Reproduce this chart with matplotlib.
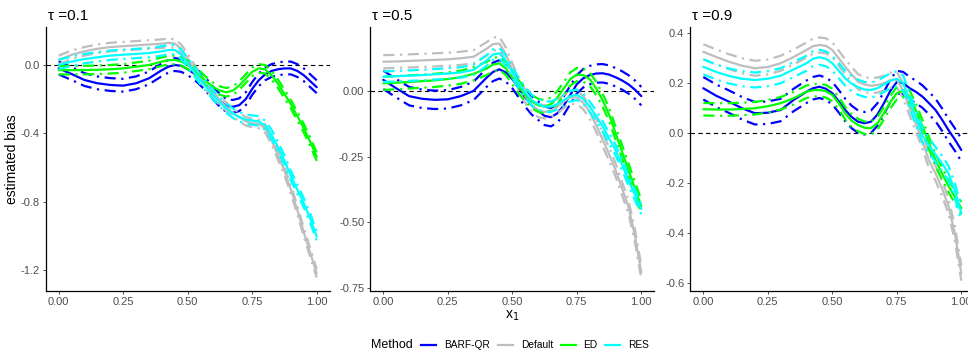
import numpy as np
from matplotlib import pyplot as plt
from matplotlib.lines import Line2D

plt.rcParams["font.family"] = ["Liberation Sans", "DejaVu Sans"]
plt.rcParams["axes.unicode_minus"] = False

# finer grid where the curves bend quickly
x1 = [0.0, 0.05, 0.1, 0.15, 0.2, 0.25, 0.3, 0.35, 0.4, 0.425, 0.45, 0.475, 0.5, 0.525,
      0.55, 0.575, 0.6, 0.625, 0.65, 0.675, 0.7, 0.725, 0.75, 0.775, 0.8, 0.825, 0.85,
      0.875, 0.9, 0.925, 0.95, 0.975, 1.0]

methods = ["BARF-QR", "Default", "ED", "RES"]
colors = ["#0000FF", "#BEBEBE", "#00FF00", "#00FFFF"]

# estimated bias curves, tau = 0.1
t01_barf = [-0.02, -0.053, -0.088, -0.107, -0.117, -0.121, -0.107, -0.078, -0.03, -0.01, 0.0,
            -0.005, -0.025, -0.05, -0.085, -0.125, -0.17, -0.21, -0.24, -0.245, -0.235, -0.2,
            -0.14, -0.09, -0.055, -0.035, -0.025, -0.02, -0.02, -0.035, -0.06, -0.095, -0.13]
t01_default = [0.03, 0.06, 0.08, 0.095, 0.105, 0.11, 0.115, 0.12, 0.125, 0.13, 0.125, 0.095,
               0.04, -0.02, -0.075, -0.125, -0.17, -0.21, -0.245, -0.28, -0.305, -0.33, -0.34,
               -0.345, -0.37, -0.44, -0.53, -0.62, -0.73, -0.85, -0.98, -1.1, -1.22]
t01_ed = [-0.03, -0.03, -0.03, -0.028, -0.025, -0.02, -0.01, 0.0, 0.02, 0.028, 0.03, 0.02,
          0.0, -0.03, -0.065, -0.1, -0.13, -0.15, -0.16, -0.15, -0.12, -0.08, -0.04, -0.02,
          -0.025, -0.06, -0.11, -0.17, -0.23, -0.3, -0.37, -0.45, -0.537]
t01_res = [0.0, 0.02, 0.035, 0.045, 0.055, 0.06, 0.065, 0.07, 0.08, 0.088, 0.088, 0.06,
           0.01, -0.04, -0.09, -0.135, -0.18, -0.22, -0.255, -0.285, -0.305, -0.32, -0.325,
           -0.33, -0.355, -0.41, -0.48, -0.56, -0.65, -0.73, -0.81, -0.9, -1.005]

# estimated bias curves, tau = 0.5
t05_barf = [0.042, 0.01, -0.02, -0.03, -0.034, -0.032, -0.02, 0.0, 0.05, 0.072, 0.082, 0.07,
            0.045, 0.01, -0.025, -0.055, -0.075, -0.095, -0.1, -0.085, -0.055, -0.015, 0.025,
            0.048, 0.06, 0.066, 0.067, 0.062, 0.052, 0.04, 0.025, 0.005, -0.02]
t05_default = [0.111, 0.112, 0.114, 0.116, 0.118, 0.12, 0.124, 0.13, 0.16, 0.178, 0.18, 0.14,
               0.08, 0.025, -0.02, -0.055, -0.075, -0.08, -0.075, -0.06, -0.04, -0.025, -0.025,
               -0.045, -0.08, -0.13, -0.185, -0.24, -0.3, -0.37, -0.44, -0.55, -0.69]
t05_ed = [0.029, 0.031, 0.034, 0.037, 0.04, 0.045, 0.052, 0.065, 0.085, 0.1, 0.105, 0.085,
          0.05, 0.015, -0.015, -0.04, -0.055, -0.06, -0.05, -0.025, 0.01, 0.045, 0.062, 0.06,
          0.045, 0.01, -0.035, -0.09, -0.16, -0.23, -0.3, -0.37, -0.44]
t05_res = [0.054, 0.056, 0.058, 0.06, 0.063, 0.066, 0.07, 0.08, 0.115, 0.138, 0.143, 0.115,
           0.07, 0.03, -0.005, -0.035, -0.05, -0.06, -0.06, -0.05, -0.035, -0.02, -0.015,
           -0.03, -0.06, -0.095, -0.135, -0.18, -0.225, -0.28, -0.34, -0.395, -0.45]

# estimated bias curves, tau = 0.9
t09_barf = [0.18, 0.15, 0.126, 0.1, 0.08, 0.082, 0.093, 0.133, 0.166, 0.18, 0.186, 0.178,
            0.16, 0.128, 0.093, 0.065, 0.046, 0.04, 0.046, 0.075, 0.12, 0.17, 0.205, 0.2,
            0.18, 0.165, 0.146, 0.12, 0.093, 0.055, 0.013, -0.025, -0.067]
t09_default = [0.326, 0.305, 0.286, 0.27, 0.26, 0.265, 0.28, 0.305, 0.333, 0.348, 0.353, 0.35,
               0.333, 0.3, 0.266, 0.235, 0.206, 0.195, 0.19, 0.193, 0.2, 0.212, 0.215, 0.17,
               0.1, 0.035, -0.035, -0.11, -0.16, -0.22, -0.29, -0.4, -0.56]
t09_ed = [0.096, 0.095, 0.095, 0.097, 0.1, 0.108, 0.12, 0.14, 0.166, 0.172, 0.173, 0.168,
          0.153, 0.12, 0.08, 0.05, 0.033, 0.022, 0.02, 0.04, 0.08, 0.125, 0.16, 0.17, 0.146,
          0.09, 0.027, -0.04, -0.107, -0.16, -0.21, -0.255, -0.3]
t09_res = [0.266, 0.245, 0.229, 0.218, 0.213, 0.218, 0.23, 0.255, 0.28, 0.298, 0.304, 0.298,
           0.28, 0.25, 0.22, 0.198, 0.184, 0.175, 0.173, 0.18, 0.195, 0.21, 0.218, 0.2, 0.13,
           0.06, -0.01, -0.05, -0.085, -0.12, -0.16, -0.23, -0.32]

# half widths of the dash-dot bands (below, above) per method
t01_band_lo = [0.035, 0.025, 0.025, 0.025]
t01_band_hi = [0.04, 0.025, 0.025, 0.03]
t05_band_lo = [0.035, 0.025, 0.025, 0.02]
t05_band_hi = [0.035, 0.025, 0.025, 0.02]
t09_band_lo = [0.045, 0.03, 0.025, 0.03]
t09_band_hi = [0.045, 0.03, 0.025, 0.03]

panel_titles = ["\u03c4 =0.1", "\u03c4 =0.5", "\u03c4 =0.9"]
panel_curves = [
    [t01_barf, t01_default, t01_ed, t01_res],
    [t05_barf, t05_default, t05_ed, t05_res],
    [t09_barf, t09_default, t09_ed, t09_res],
]
panel_bands = [(t01_band_lo, t01_band_hi), (t05_band_lo, t05_band_hi), (t09_band_lo, t09_band_hi)]
panel_ylims = [(-1.322, 0.2225), (-0.76, 0.243), (-0.63, 0.425)]
panel_yticks = [[0.0, -0.4, -0.8, -1.2], [0.0, -0.25, -0.5, -0.75], [0.4, 0.2, 0.0, -0.2, -0.4, -0.6]]
panel_yfmt = ["{:.1f}", "{:.2f}", "{:.1f}"]
xticks = [0.0, 0.25, 0.5, 0.75, 1.0]

W, H = 968, 358
fig = plt.figure(figsize=(W / 100, H / 100), dpi=100)
lefts = [45.8, 370.4, 690.4]
top_px, bottom_px, width_px = 27, 290.7, 283.8
dashdot = (0, (5, 2.5, 1, 2.5))

for i in range(3):
    ax = fig.add_axes([lefts[i] / W, 1 - bottom_px / H, width_px / W, (bottom_px - top_px) / H])
    ax.axhline(0, color="black", lw=0.8, ls=(0, (4, 3)), zorder=1)
    lo, hi = panel_bands[i]
    for j, vals in enumerate(panel_curves[i]):
        v = np.array(vals)
        ax.plot(x1, v, color=colors[j], lw=1.6, solid_capstyle="round", zorder=2)
        ax.plot(x1, v - lo[j], color=colors[j], lw=1.6, ls=dashdot, zorder=2)
        ax.plot(x1, v + hi[j], color=colors[j], lw=1.6, ls=dashdot, zorder=2)
    ax.set_xlim(-0.05, 1.05)
    ax.set_ylim(*panel_ylims[i])
    ax.set_xticks(xticks)
    ax.set_xticklabels([f"{t:.2f}" for t in xticks])
    ax.set_yticks(panel_yticks[i])
    ax.set_yticklabels([panel_yfmt[i].format(t) for t in panel_yticks[i]])
    ax.tick_params(labelsize=8, labelcolor="#4D4D4D", color="#333333", length=2.5, width=0.6, pad=2)
    for s in ["top", "right"]:
        ax.spines[s].set_visible(False)
    for s in ["left", "bottom"]:
        ax.spines[s].set_linewidth(0.9)
    ax.set_title(panel_titles[i], loc="left", fontsize=11, pad=5, x=0.007)
    if i == 0:
        ax.set_ylabel("estimated bias", fontsize=10, labelpad=1)
    if i == 1:
        ax.set_xlabel("x$_1$", fontsize=10, labelpad=1)

# legend along the bottom: title, then key + label for each method
legend_y = 1 - 345 / H
key_x = [421, 498, 561, 605]
label_x = [444, 521, 583, 628]
fig.text(371 / W, legend_y, "Method", fontsize=9, va="center", ha="left")
for k in range(len(methods)):
    fig.add_artist(Line2D([key_x[k] / W, (key_x[k] + 15) / W], [legend_y, legend_y],
                          color=colors[k], lw=1.6, transform=fig.transFigure))
    fig.text(label_x[k] / W, legend_y, methods[k], fontsize=7.3, va="center", ha="left")

fig.savefig("out.png", dpi=100)
